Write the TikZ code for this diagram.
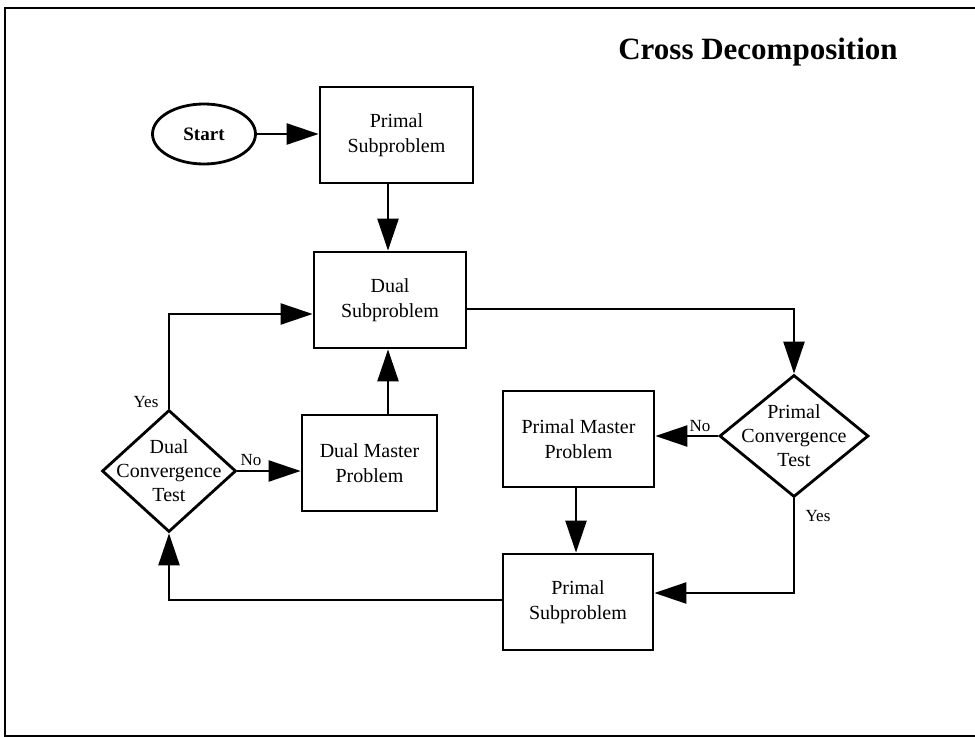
\documentclass[tikz,border=0pt]{standalone}
\usepackage{fontspec}
\setmainfont{Liberation Serif}
\usetikzlibrary{arrows.meta,shapes.geometric}
\begin{document}
\begin{tikzpicture}[x=1pt,y=-1pt,
  box/.style={draw,line width=2.8pt,rectangle,minimum width=152pt,minimum height=96pt,inner sep=0pt,align=center,font=\fontsize{20}{25}\selectfont},
  dia/.style={draw,line width=2.8pt,diamond,minimum width=134pt,minimum height=122pt,inner sep=0pt},
  diatext/.style={align=center,inner sep=0pt,font=\fontsize{20}{24}\selectfont},
  conn/.style={line width=2.4pt,-{Triangle[length=32pt,width=21pt]}},
  lbl/.style={inner sep=0pt,font=\fontsize{17}{19}\selectfont},
  frame/.style={line width=1.8pt}]
\useasboundingbox (0,0) rectangle (975,738);
% frame
\coordinate (ftr) at (975,8);
\coordinate (ftl) at (5,8);
\coordinate (fbl) at (5,736);
\coordinate (fbr) at (975,736);
\draw[frame] (ftr) -- (ftl) -- (fbl) -- (fbr);
% title
\node[anchor=base,inner sep=0pt,font=\fontsize{31}{36}\bfseries\selectfont] (title) at (758,60) {Cross Decomposition};
% nodes
\node[draw,line width=2.8pt,ellipse,minimum width=103pt,minimum height=60pt,inner sep=0pt,font=\fontsize{19}{22}\bfseries\selectfont] (start) at (204,134) {Start};
\node[box,minimum width=153pt] (ps1) at (396.5,135) {Primal\\Subproblem};
\node[box] (ds) at (390,300) {Dual\\Subproblem};
\node[box,minimum width=135pt] (dm) at (369.5,463) {Dual Master\\Problem};
\node[dia] (dct) at (169,471) {};
\node[diatext] (dcttext) at (169,471) {Dual\\Convergence\\Test};
\node[dia,minimum width=149pt] (pct) at (794,436) {};
\node[diatext] (pcttext) at (794,436) {Primal\\Convergence\\Test};
\node[box,minimum width=151pt] (pm) at (578.5,439) {Primal Master\\Problem};
\node[box,minimum width=150pt] (ps2) at (578,602) {Primal\\Subproblem};
% helper coordinates
\coordinate (xa) at (388,0);
\coordinate (xb) at (576,0);
\coordinate (ydy) at (0,314);
\coordinate (ydsout) at (0,309);
\coordinate (ypy) at (0,593);
\coordinate (ybot) at (0,600);
% connectors
\draw[conn] (start.east) -- (ps1.west |- start.east);
\draw[conn] (ps1.south -| xa) -- (ds.north -| xa);
\draw[conn] (dm.north -| xa) -- (ds.south -| xa);
\draw[conn] (dct.east) -- (dm.west |- dct.east);
\draw[conn] (dct.north) -- (dct.north |- ydy) -- (ds.west |- ydy);
\draw[conn] (ds.east |- ydsout) -- (pct.north |- ydsout) -- (pct.north);
\draw[conn] (pct.west) -- (pm.east |- pct.west);
\draw[conn] (pm.south -| xb) -- (ps2.north -| xb);
\draw[conn] (pct.south) -- (pct.south |- ypy) -- (ps2.east |- ypy);
\draw[conn] (ps2.west |- ybot) -- (dct.south |- ybot) -- (dct.south);
% labels
\node[lbl] (ly1) at (146,402) {Yes};
\node[lbl,anchor=south] (ln1) at (251,466) {No};
\node[lbl,anchor=south] (ln2) at (700,432) {No};
\node[lbl] (ly2) at (818,516) {Yes};
\end{tikzpicture}
\end{document}
